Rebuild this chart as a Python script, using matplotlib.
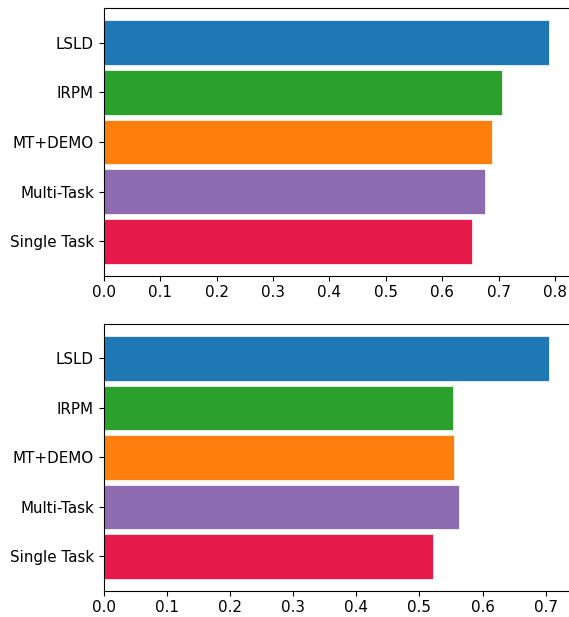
import matplotlib
matplotlib.use("Agg")
import matplotlib.pyplot as plt

categories = ["Single Task", "Multi-Task", "MT+DEMO", "IRPM", "LSLD"]
colors = ["#e6194b", "#8c6bb1", "#ff7f0e", "#2ca02c", "#1f77b4"]
scores_top = [0.652, 0.675, 0.689, 0.706, 0.789]
scores_bottom = [0.521, 0.562, 0.555, 0.553, 0.705]

fig = plt.figure(figsize=(5.69, 6.17), dpi=100)
ax_top = fig.add_axes([0.1822, 0.5532, 0.8215, 0.4334])
ax_bot = fig.add_axes([0.1822, 0.0426, 0.8215, 0.4323])

for ax, vals in ((ax_top, scores_top), (ax_bot, scores_bottom)):
    ax.barh(categories, vals, height=0.9, color=colors,
            edgecolor="white", linewidth=0.5)
    ax.spines["right"].set_visible(False)
    ax.tick_params(labelsize=10.9)

fig.savefig("out.png", dpi=100)
